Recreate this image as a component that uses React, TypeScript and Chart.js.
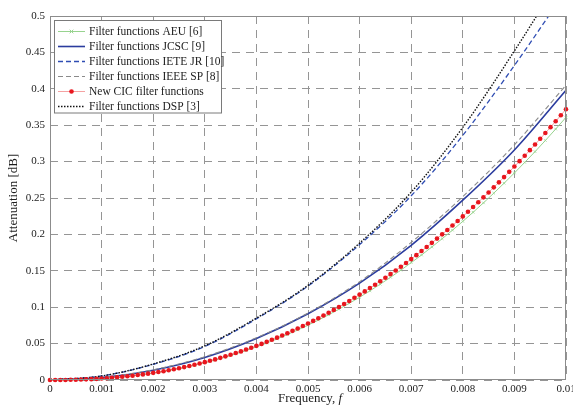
import React, { useEffect, useRef } from 'react';
import { Chart, registerables } from 'chart.js';

Chart.register(...registerables);

// ---------- data ----------
const X_TICKS = [0, 0.001, 0.002, 0.003, 0.004, 0.005, 0.006, 0.007, 0.008, 0.009, 0.01];
const X_TICK_LABELS = ['0', '0.001', '0.002', '0.003', '0.004', '0.005', '0.006', '0.007', '0.008', '0.009', '0.01'];
const Y_TICKS = [0, 0.05, 0.1, 0.15, 0.2, 0.25, 0.3, 0.35, 0.4, 0.45, 0.5];
const Y_TICK_LABELS = ['0', '0.05', '0.1', '0.15', '0.2', '0.25', '0.3', '0.35', '0.4', '0.45', '0.5'];

// frequencies of the smooth reference curves (step 0.001)
const FREQ_COARSE = [0, 0.001, 0.002, 0.003, 0.004, 0.005, 0.006, 0.007, 0.008, 0.009, 0.01];

const JCSC = [0, 0.0035, 0.0135, 0.031, 0.057, 0.091, 0.133, 0.185, 0.247, 0.316, 0.398];
const IETE_JR = [0, 0.0055, 0.0215, 0.046, 0.084, 0.129, 0.186, 0.253, 0.336, 0.432, 0.535];
const IEEE_SP = [0, 0.0036, 0.014, 0.032, 0.058, 0.092, 0.135, 0.189, 0.252, 0.323, 0.405];
const DSP = [0, 0.0055, 0.022, 0.047, 0.085, 0.13, 0.188, 0.258, 0.347, 0.452, 0.565];

// New CIC filter functions: one dot every 0.0001
const NEW_CIC = [
  0,
  0.0000, 0.0001, 0.0001, 0.0003, 0.0004, 0.0006, 0.0009, 0.0012, 0.0016, 0.0020,
  0.0025, 0.0031, 0.0037, 0.0044, 0.0051, 0.0059, 0.0068, 0.0077, 0.0087, 0.0098,
  0.0109, 0.0121, 0.0134, 0.0148, 0.0162, 0.0177, 0.0193, 0.0209, 0.0227, 0.0245,
  0.0264, 0.0283, 0.0304, 0.0325, 0.0347, 0.0370, 0.0393, 0.0418, 0.0443, 0.0469,
  0.0496, 0.0524, 0.0552, 0.0582, 0.0612, 0.0643, 0.0675, 0.0708, 0.0742, 0.0777,
  0.0812, 0.0849, 0.0886, 0.0924, 0.0963, 0.1003, 0.1044, 0.1086, 0.1129, 0.1173,
  0.1217, 0.1263, 0.1309, 0.1357, 0.1405, 0.1455, 0.1505, 0.1556, 0.1608, 0.1661,
  0.1715, 0.1771, 0.1827, 0.1884, 0.1942, 0.2001, 0.2061, 0.2122, 0.2184, 0.2247,
  0.2311, 0.2376, 0.2442, 0.2509, 0.2576, 0.2646, 0.2715, 0.2787, 0.2859, 0.2932,
  0.3006, 0.3081, 0.3157, 0.3234, 0.3313, 0.3392, 0.3473, 0.3554, 0.3636, 0.3720,
];
const CIC_STEP = 0.0001;

// Filter functions AEU: one marker every 0.0002
const AEU = [
  0,
  0.0001, 0.0003, 0.0006, 0.0012, 0.0020, 0.0030, 0.0042, 0.0057, 0.0075, 0.0095,
  0.0118, 0.0143, 0.0172, 0.0203, 0.0237, 0.0275, 0.0315, 0.0359, 0.0405, 0.0455,
  0.0508, 0.0564, 0.0624, 0.0687, 0.0753, 0.0823, 0.0896, 0.0973, 0.1054, 0.1137,
  0.1225, 0.1316, 0.1411, 0.1509, 0.1612, 0.1717, 0.1827, 0.1941, 0.2058, 0.2179,
  0.2304, 0.2433, 0.2566, 0.2703, 0.2844, 0.2989, 0.3137, 0.3290, 0.3447, 0.3608,
];
const AEU_STEP = 0.0002;

const LABELS = [
  'Filter functions AEU [6]',
  'Filter functions JCSC [9]',
  'Filter functions IETE JR [10]',
  'Filter functions IEEE SP [8]',
  'New CIC filter functions',
  'Filter functions DSP [3]',
];

// ---------- styles ----------
const SERIF = '"Liberation Serif", "Times New Roman", serif';
const TEXT = '#1c1c1c';
const GRID = '#959595';
const FRAME = '#8c8c8c';

const pts = (xs: number[], ys: number[]) => ys.map((y, i) => ({ x: xs[i], y }));
const ptsStep = (step: number, ys: number[]) => ys.map((y, i) => ({ x: i * step, y }));

const overlayPlugin = {
  id: 'overlay',
  afterDatasetsDraw(chart: any) {
    const { ctx, chartArea: a } = chart;
    ctx.save();
    // frame
    ctx.strokeStyle = FRAME;
    ctx.lineWidth = 1;
    ctx.setLineDash([]);
    ctx.strokeRect(a.left + 0.5, a.top + 0.5, a.right - a.left - 1, a.bottom - a.top - 1);

    // legend
    const bx = a.left + 4.5;
    const by = a.top + 4.5;
    const bw = 167;
    const bh = 92.5;
    ctx.fillStyle = '#ffffff';
    ctx.fillRect(bx, by, bw, bh);
    ctx.strokeStyle = '#7a7a7a';
    ctx.strokeRect(bx, by, bw, bh);

    const rowY0 = a.top + 14.8;
    const rowH = 15.05;
    const lx0 = a.left + 8;
    const lx1 = a.left + 35;
    const ds = chart.data.datasets;
    for (let i = 0; i < ds.length; i++) {
      const d = ds[i];
      const y = Math.round(rowY0 + i * rowH) + 0.5;
      ctx.save();
      ctx.strokeStyle = d.borderColor;
      ctx.lineWidth = d.borderWidth;
      ctx.setLineDash(d.borderDash || []);
      ctx.beginPath();
      ctx.moveTo(lx0, y);
      ctx.lineTo(lx1, y);
      ctx.stroke();
      ctx.setLineDash([]);
      const mx = (lx0 + lx1) / 2;
      if (d.pointStyle === 'circle' && d.pointRadius > 0) {
        ctx.fillStyle = d.pointBackgroundColor;
        ctx.beginPath();
        ctx.arc(mx, y, d.pointRadius, 0, Math.PI * 2);
        ctx.fill();
      } else if (d.pointStyle === 'crossRot' && d.pointRadius > 0) {
        const r = d.pointRadius;
        ctx.strokeStyle = d.pointBorderColor;
        ctx.lineWidth = 1;
        ctx.beginPath();
        ctx.moveTo(mx - r, y - r);
        ctx.lineTo(mx + r, y + r);
        ctx.moveTo(mx - r, y + r);
        ctx.lineTo(mx + r, y - r);
        ctx.stroke();
      }
      ctx.restore();
      ctx.fillStyle = TEXT;
      ctx.font = `11.5px ${SERIF}`;
      ctx.textAlign = 'left';
      ctx.textBaseline = 'middle';
      ctx.fillText(d.label, a.left + 39, y);
    }
    ctx.restore();
  },
  afterDraw(chart: any) {
    const { ctx, chartArea: a } = chart;
    ctx.save();
    ctx.fillStyle = TEXT;
    ctx.textBaseline = 'middle';
    ctx.textAlign = 'left';
    const normal = `13px ${SERIF}`;
    const italic = `italic 13px ${SERIF}`;
    ctx.font = normal;
    const w1 = ctx.measureText('Frequency, ').width;
    ctx.font = italic;
    const w2 = ctx.measureText('f').width;
    const x0 = (a.left + a.right) / 2 - (w1 + w2) / 2 + 2;
    const y = a.bottom + 19;
    ctx.font = normal;
    ctx.fillText('Frequency, ', x0, y);
    ctx.font = italic;
    ctx.fillText('f', x0 + w1, y);
    ctx.restore();
  },
};

export default function App() {
  const ref = useRef<HTMLCanvasElement | null>(null);

  useEffect(() => {
    if (!ref.current) return;
    const chart = new Chart(ref.current, {
      type: 'line',
      data: {
        datasets: [
          {
            label: LABELS[0],
            data: ptsStep(AEU_STEP, AEU),
            borderColor: '#98d38f',
            borderWidth: 1,
            pointStyle: 'crossRot',
            pointRadius: 1.8,
            pointBorderColor: '#98d38f',
            pointBorderWidth: 0.8,
            pointBackgroundColor: '#98d38f',
            order: 5,
            clip: 4,
          } as any,
          {
            label: LABELS[1],
            data: pts(FREQ_COARSE, JCSC),
            borderColor: '#2b3c9e',
            borderWidth: 1.6,
            pointRadius: 0,
            cubicInterpolationMode: 'monotone',
            order: 4,
          },
          {
            label: LABELS[2],
            data: pts(FREQ_COARSE, IETE_JR),
            borderColor: '#2f4db3',
            borderWidth: 1.3,
            borderDash: [5, 3],
            pointRadius: 0,
            cubicInterpolationMode: 'monotone',
            order: 2,
          },
          {
            label: LABELS[3],
            data: pts(FREQ_COARSE, IEEE_SP),
            borderColor: '#8a8a8a',
            borderWidth: 1.1,
            borderDash: [5, 3],
            pointRadius: 0,
            cubicInterpolationMode: 'monotone',
            order: 3,
          },
          {
            label: LABELS[4],
            data: ptsStep(CIC_STEP, NEW_CIC),
            borderColor: '#f28a8a',
            borderWidth: 0.8,
            pointStyle: 'circle',
            pointRadius: 2.3,
            pointBorderWidth: 0,
            pointBackgroundColor: '#e8161e',
            pointBorderColor: '#e8161e',
            order: 0,
            clip: 4,
          } as any,
          {
            label: LABELS[5],
            data: pts(FREQ_COARSE, DSP),
            borderColor: '#111111',
            borderWidth: 1.4,
            borderDash: [1.5, 1.5],
            pointRadius: 0,
            cubicInterpolationMode: 'monotone',
            order: 1,
          },
        ],
      },
      options: {
        animation: false,
        responsive: false,
        devicePixelRatio: 1,
        events: [],
        layout: { padding: { top: 16, right: 7, left: 0, bottom: 0 } },
        plugins: {
          legend: { display: false },
          tooltip: { enabled: false },
          title: { display: false },
        },
        scales: {
          x: {
            type: 'linear',
            min: 0,
            max: 0.01,
            afterBuildTicks: (s: any) => {
              s.ticks = X_TICKS.map((v) => ({ value: v }));
            },
            afterFit: (s: any) => {
              s.height = 30;
              s.paddingLeft = 0;
              s.paddingRight = 0;
            },
            grid: { color: GRID, lineWidth: 1, drawTicks: false },
            border: { display: false, dash: [8, 6] },
            ticks: {
              autoSkip: false,
              maxRotation: 0,
              padding: 3,
              color: TEXT,
              font: { family: SERIF, size: 11 },
              callback: (_v: any, i: number) => X_TICK_LABELS[i],
            },
          },
          y: {
            type: 'linear',
            min: 0,
            max: 0.5,
            afterBuildTicks: (s: any) => {
              s.ticks = Y_TICKS.map((v) => ({ value: v }));
            },
            afterFit: (s: any) => {
              s.width = 50;
            },
            grid: { color: GRID, lineWidth: 1, drawTicks: false },
            border: { display: false, dash: [8, 6] },
            ticks: {
              autoSkip: false,
              padding: 5,
              color: TEXT,
              font: { family: SERIF, size: 11 },
              callback: (_v: any, i: number) => Y_TICK_LABELS[i],
            },
            title: {
              display: true,
              text: 'Attenuation [dB]',
              color: TEXT,
              font: { family: SERIF, size: 13 },
              padding: { top: 6, bottom: 0 },
            },
          },
        },
      },
      plugins: [overlayPlugin],
    } as any);
    return () => chart.destroy();
  }, []);

  return (
    <div style={{ position: 'absolute', left: 0, top: 0, width: 573, height: 410, background: '#fff' }}>
      <canvas ref={ref} width={573} height={410} style={{ display: 'block' }} />
    </div>
  );
}
